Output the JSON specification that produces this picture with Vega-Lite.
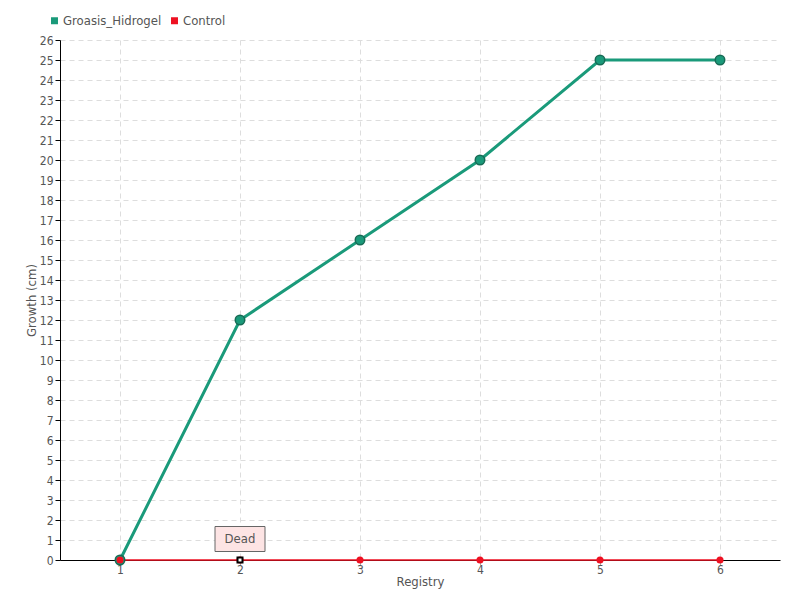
{
  "$schema": "https://vega.github.io/schema/vega-lite/v6.json",
  "width": 720,
  "height": 520,
  "autosize": "none",
  "padding": {"left": 60, "top": 40, "right": 20, "bottom": 40},
  "background": "white",
  "config": {
    "font": "DejaVu Sans Condensed",
    "view": {"stroke": null}
  },
  "data": {
    "values": [
      {"Registry": 1, "Growth": 0, "Series": "Groasis_Hidrogel"},
      {"Registry": 2, "Growth": 12, "Series": "Groasis_Hidrogel"},
      {"Registry": 3, "Growth": 16, "Series": "Groasis_Hidrogel"},
      {"Registry": 4, "Growth": 20, "Series": "Groasis_Hidrogel"},
      {"Registry": 5, "Growth": 25, "Series": "Groasis_Hidrogel"},
      {"Registry": 6, "Growth": 25, "Series": "Groasis_Hidrogel"},
      {"Registry": 1, "Growth": 0, "Series": "Control"},
      {"Registry": 2, "Growth": 0, "Series": "Control"},
      {"Registry": 3, "Growth": 0, "Series": "Control"},
      {"Registry": 4, "Growth": 0, "Series": "Control"},
      {"Registry": 5, "Growth": 0, "Series": "Control"},
      {"Registry": 6, "Growth": 0, "Series": "Control"}
    ]
  },
  "encoding": {
    "x": {
      "field": "Registry", "type": "quantitative",
      "scale": {"domain": [0.5, 6.5], "nice": false, "zero": false},
      "axis": {
        "values": [1, 2, 3, 4, 5, 6], "title": "Registry",
        "titleFontWeight": "normal", "titleFontSize": 13, "titleColor": "#555", "titlePadding": 0,
        "labelColor": "#555", "labelFontSize": 12, "domainColor": "#000", "tickColor": "#aaa",
        "gridColor": "#ddd", "gridDash": [5, 4], "tickSize": 5, "labelPadding": -1
      }
    },
    "y": {
      "field": "Growth", "type": "quantitative",
      "scale": {"domain": [0, 26], "nice": false},
      "axis": {
        "values": [0,1,2,3,4,5,6,7,8,9,10,11,12,13,14,15,16,17,18,19,20,21,22,23,24,25,26],
        "title": "Growth (cm)", "titleFontWeight": "normal", "titleFontSize": 13, "titleColor": "#555",
        "titlePadding": 1, "labelColor": "#555", "labelFontSize": 12, "domainColor": "#000",
        "tickColor": "#000", "tickSize": 5, "gridColor": "#ddd", "gridDash": [5, 4], "labelPadding": 2
      }
    },
    "color": {
      "field": "Series", "type": "nominal",
      "scale": {"domain": ["Groasis_Hidrogel", "Control"], "range": ["#1a9a7a", "#ee1122"]},
      "legend": {
        "title": null, "orient": "none", "legendX": -12, "legendY": -26, "direction": "horizontal",
        "symbolType": "square", "symbolSize": 30, "labelFontSize": 13, "labelColor": "#555",
        "columnPadding": 6, "labelOffset": 2
      }
    }
  },
  "layer": [
    {
      "transform": [{"filter": "datum.Series == 'Control'"}],
      "mark": {"type": "line", "strokeWidth": 1.5}
    },
    {
      "transform": [{"filter": "datum.Series == 'Groasis_Hidrogel'"}],
      "mark": {"type": "line", "strokeWidth": 3}
    },
    {
      "transform": [{"filter": "datum.Series == 'Groasis_Hidrogel'"}],
      "mark": {"type": "point", "filled": true, "size": 90, "opacity": 1, "stroke": "#166b55", "strokeWidth": 1.5}
    },
    {
      "transform": [{"filter": "datum.Series == 'Control'"}],
      "mark": {"type": "point", "filled": true, "size": 50, "opacity": 1, "strokeWidth": 0}
    },
    {
      "data": {"values": [{"Registry": 2, "Growth": 0, "label": "Dead"}]},
      "layer": [
        {
          "mark": {"type": "rect", "fill": "#fde4e4", "stroke": "#666", "strokeWidth": 1, "width": 50, "height": 25, "yOffset": -21},
          "encoding": {"color": {"value": "#fde4e4"}}
        },
        {
          "mark": {"type": "text", "fontSize": 13, "color": "#555", "yOffset": -21},
          "encoding": {"text": {"field": "label"}, "color": {"value": "#555"}}
        },
        {
          "mark": {"type": "point", "shape": "square", "size": 25, "filled": true, "fill": "white", "stroke": "#000", "strokeWidth": 2, "opacity": 1},
          "encoding": {"color": {"value": "#000"}}
        }
      ]
    }
  ]
}
